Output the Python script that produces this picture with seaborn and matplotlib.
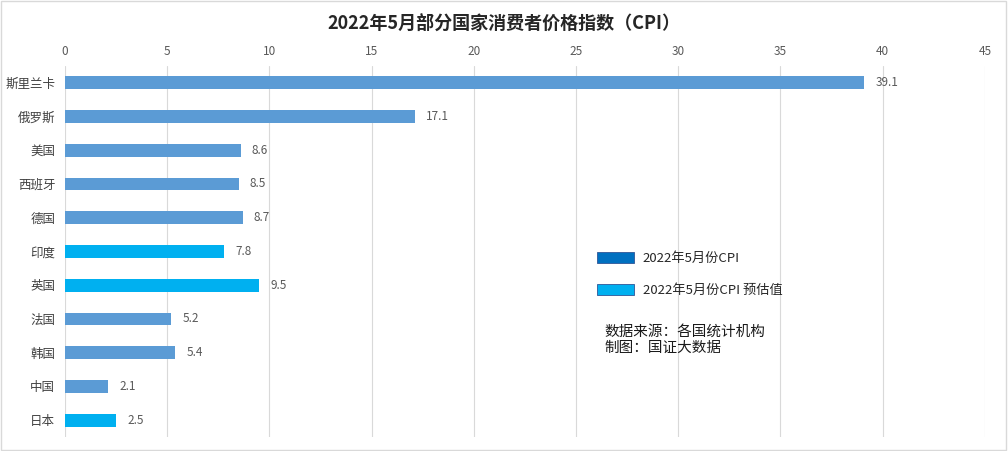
import matplotlib
matplotlib.use("Agg")
import matplotlib.pyplot as plt
import seaborn as sns
import pandas as pd
from matplotlib.patches import Patch

countries = ["斯里兰卡", "俄罗斯", "美国", "西班牙", "德国", "印度", "英国", "法国", "韩国", "中国", "日本"]
cpi = [39.1, 17.1, 8.6, 8.5, 8.7, 7.8, 9.5, 5.2, 5.4, 2.1, 2.5]
estimated = [False, False, False, False, False, True, True, False, False, False, True]
xticks = [0, 5, 10, 15, 20, 25, 30, 35, 40, 45]

BAR_COLOR = "#5B9BD5"
EST_COLOR = "#00B0F0"
LEGEND_COLOR = "#0070C0"

sns.set_theme(style="white")
plt.rcParams["font.family"] = ["Noto Sans CJK SC", "DejaVu Sans"]

df = pd.DataFrame({"country": countries, "cpi": cpi, "est": estimated})
palette = {c: (EST_COLOR if e else BAR_COLOR) for c, e in zip(countries, estimated)}

fig = plt.figure(figsize=(10.08, 4.51), dpi=100)
ax = fig.add_axes([0.0645, 0.031, 0.9125, 0.823])

sns.barplot(data=df, x="cpi", y="country", hue="country", palette=palette,
            orient="h", width=0.38, legend=False, ax=ax, saturation=1, linewidth=0)

ax.set_xlim(0, 45)
ax.set_xticks(xticks)
ax.xaxis.tick_top()
ax.tick_params(axis="x", length=0, labelsize=8.5, labelcolor="#595959", pad=6)
ax.tick_params(axis="y", length=0, labelsize=9, labelcolor="#404040", pad=7)
ax.grid(axis="x", color="#D9D9D9", linewidth=0.8)
ax.set_axisbelow(True)
for s in ax.spines.values():
    s.set_visible(False)
ax.set_xlabel("")
ax.set_ylabel("")

for cont in ax.containers:
    ax.bar_label(cont, fmt="%.1f", padding=8, fontsize=8.5, color="#595959")

handles = [Patch(facecolor=LEGEND_COLOR, edgecolor="#2F5597", linewidth=0.6, label="2022年5月份CPI"),
           Patch(facecolor=EST_COLOR, edgecolor="#2F5597", linewidth=0.6, label="2022年5月份CPI 预估值")]
ax.legend(handles=handles, loc="upper left", bbox_to_anchor=(0.565, 0.53), frameon=False,
          fontsize=9.5, handlelength=2.8, handleheight=0.85, labelspacing=1.45, handletextpad=0.7)

fig.text(0.6, 0.246, "数据来源：各国统计机构\n制图：国证大数据", fontsize=10.5, color="#1a1a1a",
         va="center", linespacing=1.2)

fig.suptitle("2022年5月部分国家消费者价格指数（CPI）", x=0.5, y=0.97, fontsize=13, fontweight="bold")

fig.patches.append(plt.Rectangle((0.001, 0.002), 0.997, 0.995, transform=fig.transFigure,
                                 fill=False, edgecolor="#D9D9D9", linewidth=1))

fig.savefig("out.png", dpi=100)
